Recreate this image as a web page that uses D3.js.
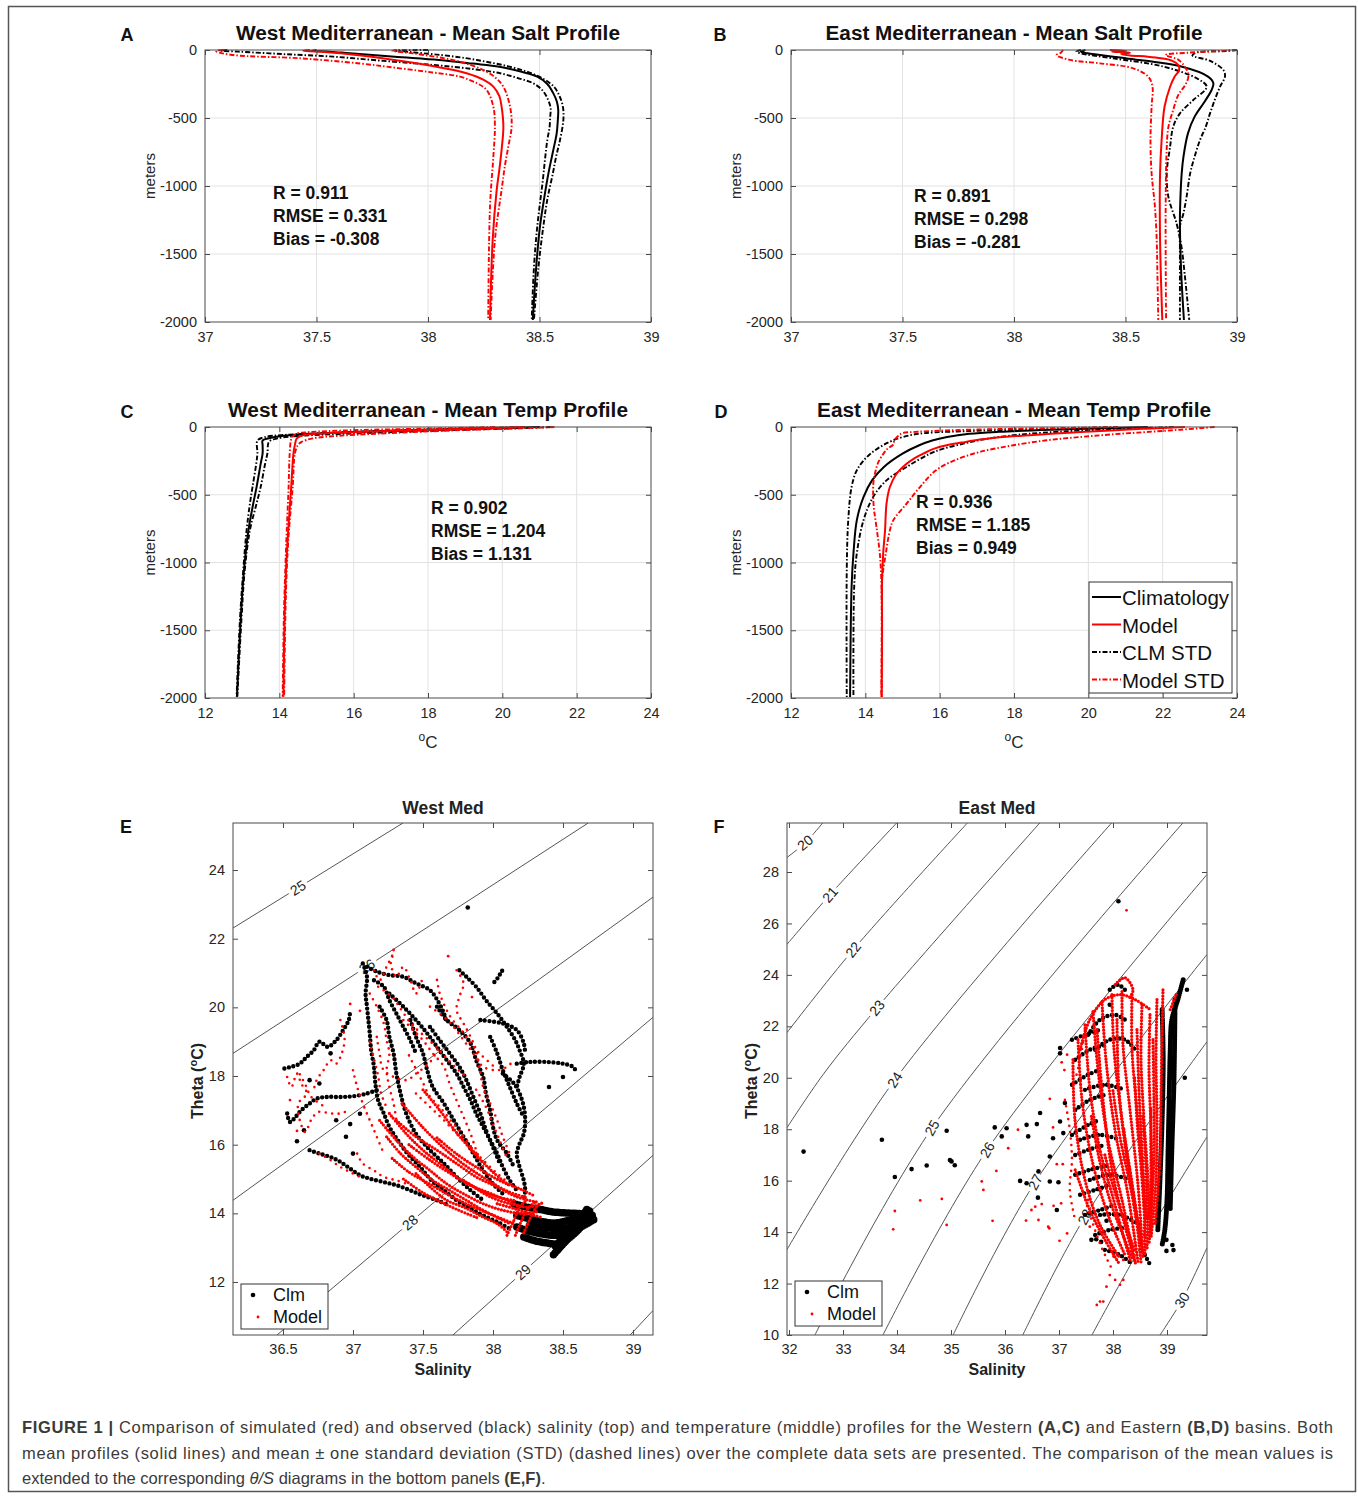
<!DOCTYPE html>
<html><head><meta charset="utf-8">
<script src="https://cdn.jsdelivr.net/npm/d3@7"></script>
<style>
body{margin:0;background:#fff;}
text{font-family:"Liberation Sans",Arial,Helvetica,sans-serif;}
</style></head><body>
<svg id="fig" width="1358" height="1498"></svg>
<script>
// ================= DATA =================
const depthTicks = [0, 500, 1000, 1500, 2000];
const saltTicks = [37, 37.5, 38, 38.5, 39];
const tempTicks = [12, 14, 16, 18, 20, 22, 24];

// Profiles: [depth (m), value]
const westSaltClm = [[0,37.50],[6,37.48],[12,37.56],[24,37.65],[50,37.85],[74,38.05],[100,38.2],[123,38.32],[160,38.42],[196,38.49],[250,38.535],[319,38.562],[380,38.578],[441,38.584],[520,38.582],[613,38.577],[750,38.56],[907,38.54],[1100,38.52],[1299,38.502],[1600,38.485],[1985,38.47]];
const westSaltClmLo = [[0,37.10],[5,37.07],[12,37.15],[30,37.35],[49,37.575],[80,37.8],[110,38.024],[140,38.2],[171,38.323],[210,38.41],[245,38.472],[300,38.515],[368,38.539],[430,38.55],[490,38.548],[570,38.545],[662,38.535],[800,38.525],[956,38.515],[1299,38.49],[1600,38.475],[1985,38.465]];
const westSaltClmHi = [[0,38.0],[4,37.85],[12,37.9],[20,37.95],[37,38.06],[60,38.17],[86,38.26],[120,38.36],[159,38.443],[210,38.515],[270,38.565],[340,38.59],[417,38.605],[515,38.607],[662,38.592],[780,38.575],[907,38.56],[1100,38.535],[1299,38.517],[1600,38.495],[1985,38.475]];
const westSaltMod = [[0,37.47],[6,37.44],[12,37.52],[40,37.7],[86,37.904],[130,38.06],[171,38.173],[220,38.25],[269,38.293],[340,38.32],[417,38.33],[564,38.338],[735,38.33],[880,38.32],[1029,38.308],[1397,38.29],[1985,38.278]];
const westSaltModLo = [[0,37.08],[6,37.05],[12,37.052],[37,37.126],[61,37.426],[100,37.7],[135,37.874],[165,38.02],[196,38.143],[245,38.22],[294,38.263],[417,38.293],[564,38.300],[785,38.293],[1152,38.278],[1985,38.27]];
const westSaltModHi = [[0,37.86],[6,37.84],[25,37.934],[74,38.113],[110,38.19],[147,38.248],[200,38.3],[270,38.338],[417,38.368],[564,38.375],[711,38.36],[850,38.345],[1029,38.330],[1397,38.30],[1985,38.281]];

const eastSaltClm = [[0,38.32],[12,38.30],[24,38.33],[61,38.5],[122,38.75],[196,38.87],[245,38.894],[294,38.886],[392,38.85],[490,38.81],[613,38.78],[784,38.76],[907,38.752],[1152,38.745],[1299,38.744],[1642,38.75],[1985,38.762]];
const eastSaltClmLo = [[0,38.30],[12,38.28],[24,38.296],[61,38.445],[122,38.67],[208,38.819],[270,38.864],[368,38.804],[466,38.744],[564,38.714],[711,38.70],[907,38.685],[1078,38.692],[1275,38.729],[1446,38.751],[1642,38.765],[1985,38.786]];
const eastSaltClmHi = [[0,39.0],[8,38.95],[18,38.82],[40,38.8],[80,38.88],[150,38.94],[196,38.946],[270,38.924],[368,38.90],[466,38.879],[564,38.86],[662,38.834],[784,38.81],[907,38.79],[1078,38.774],[1200,38.76],[1299,38.744],[1446,38.744],[1985,38.744]];
const eastSaltMod = [[0,38.43],[6,38.50],[12,38.44],[20,38.52],[30,38.48],[40,38.52],[49,38.6],[61,38.66],[80,38.71],[110,38.737],[150,38.74],[196,38.72],[270,38.70],[417,38.675],[662,38.662],[907,38.655],[1397,38.655],[1985,38.665]];
const eastSaltModLo = [[0,38.22],[20,38.21],[37,38.191],[73,38.251],[98,38.385],[135,38.535],[196,38.602],[270,38.621],[417,38.617],[662,38.612],[907,38.617],[1152,38.632],[1397,38.640],[1642,38.643],[1985,38.647]];
const eastSaltModHi = [[0,39.0],[10,38.9],[20,38.78],[37,38.68],[75,38.74],[147,38.775],[196,38.782],[260,38.767],[330,38.737],[440,38.714],[570,38.692],[760,38.684],[1200,38.68],[1985,38.682]];

const westTempClm = [[0,21.0],[10,19.8],[20,18.4],[30,17.0],[45,15.3],[60,14.3],[75,13.85],[100,13.55],[133,13.55],[194,13.55],[268,13.5],[440,13.39],[563,13.30],[760,13.17],[1055,13.05],[1424,12.96],[1990,12.86]];
const westTempClmLo = [[0,20.6],[10,19.2],[17,18.14],[30,16.6],[42,15.45],[59,14.11],[75,13.6],[100,13.41],[194,13.41],[268,13.38],[440,13.28],[563,13.21],[760,13.12],[1055,13.03],[1424,12.94],[1990,12.85]];
const westTempClmHi = [[0,21.3],[10,20.3],[20,19.0],[35,17.4],[50,15.8],[65,14.6],[84,13.95],[110,13.72],[194,13.68],[268,13.62],[440,13.50],[563,13.39],[760,13.21],[1055,13.07],[1424,12.98],[1990,12.87]];
const westTempMod = [[0,20.6],[10,19.5],[20,18.2],[30,16.9],[40,15.8],[50,15.0],[60,14.65],[84,14.47],[130,14.42],[194,14.38],[440,14.32],[760,14.24],[1055,14.18],[1424,14.14],[1990,14.11]];
const westTempModLo = [[0,19.8],[8,18.6],[15,17.4],[22,16.2],[30,15.3],[40,14.7],[50,14.45],[84,14.33],[194,14.28],[440,14.25],[760,14.2],[1055,14.16],[1424,14.12],[1990,14.09]];
const westTempModHi = [[0,21.4],[10,20.5],[20,19.2],[35,17.8],[50,16.6],[65,15.6],[84,14.9],[110,14.6],[133,14.5],[194,14.42],[440,14.36],[760,14.26],[1055,14.2],[1424,14.16],[1990,14.13]];

const eastTempClm = [[0,21.6],[10,20.4],[20,19.0],[35,17.6],[50,16.8],[74,16.2],[100,15.8],[135,15.45],[197,15.0],[295,14.5],[394,14.18],[517,13.95],[689,13.77],[935,13.68],[1181,13.63],[1993,13.59]];
const eastTempClmLo = [[0,20.8],[10,19.5],[20,18.0],[30,16.8],[45,15.6],[61,15.2],[98,14.75],[148,14.39],[222,14.04],[320,13.77],[443,13.63],[689,13.54],[1058,13.50],[1993,13.5]];
const eastTempClmHi = [[0,22.3],[10,21.3],[20,20.3],[35,19.2],[50,18.4],[61,17.98],[90,17.2],[123,16.64],[160,16.1],[197,15.74],[295,15.11],[394,14.57],[517,14.21],[689,13.95],[935,13.77],[1181,13.7],[1993,13.68]];
const eastTempMod = [[0,22.6],[12,21.57],[25,20.6],[37,19.77],[50,19.0],[61,18.43],[75,17.6],[93,17.08],[115,16.6],[135,16.19],[165,15.8],[197,15.56],[235,15.3],[271,15.11],[345,14.84],[443,14.66],[566,14.57],[763,14.53],[935,14.48],[1132,14.45],[1500,14.45],[1993,14.44]];
const eastTempModLo = [[0,20.8],[8,19.2],[15,17.6],[25,16.2],[35,15.4],[45,15.0],[55,14.93],[75,14.85],[100,14.78],[130,14.75],[160,14.6],[200,14.48],[260,14.35],[330,14.27],[400,14.22],[500,14.21],[600,14.23],[700,14.28],[800,14.33],[935,14.39],[1132,14.43],[1400,14.44],[1993,14.43]];
const eastTempModHi = [[0,23.4],[20,22.5],[37,21.57],[54,20.67],[74,19.77],[98,18.88],[135,17.98],[184,17.08],[246,16.4],[320,15.9],[443,15.47],[566,15.11],[689,14.75],[763,14.66],[935,14.55],[1132,14.45],[1400,14.45],[1993,14.44]];

const statsA = ["R = 0.911", "RMSE = 0.331", "Bias = -0.308"];
const statsB = ["R = 0.891", "RMSE = 0.298", "Bias = -0.281"];
const statsC = ["R = 0.902", "RMSE = 1.204", "Bias = 1.131"];
const statsD = ["R = 0.936", "RMSE = 1.185", "Bias = 0.949"];
const profileLegend = ["Climatology", "Model", "CLM STD", "Model STD"];

// T-S diagrams: [salinity, theta]
const westSalTicks = [36.5, 37, 37.5, 38, 38.5, 39];
const westThetaTicks = [12, 14, 16, 18, 20, 22, 24];
const eastSalTicks = [32, 33, 34, 35, 36, 37, 38, 39];
const eastThetaTicks = [10, 12, 14, 16, 18, 20, 22, 24, 26, 28];

const westSigma = [
  {v:"25", pts:[[36.143,22.31],[37.357,25.37]], lab:[36.607,23.48]},
  {v:"26", pts:[[36.143,18.66],[38.68,25.37]], lab:[37.1,21.19]},
  {v:"27", pts:[[36.143,14.38],[39.143,23.21]], lab:null},
  {v:"28", pts:[[36.457,10.456],[39.143,19.71]], lab:[37.407,13.73]},
  {v:"29", pts:[[37.714,10.456],[39.143,15.69]], lab:[38.214,12.29]},
  {v:"30", pts:[[38.98,10.456],[39.143,11.17]], lab:null}
];
const eastSigma = [
  {v:"20", pts:[[31.96,28.56],[32.30,29.14],[32.63,29.92]], lab:[32.30,29.14]},
  {v:"21", pts:[[31.96,25.18],[32.76,27.12],[34.0,29.92]], lab:[32.76,27.12]},
  {v:"22", pts:[[31.96,21.75],[33.19,24.98],[35.31,29.92]], lab:[33.19,24.98]},
  {v:"23", pts:[[31.96,18.05],[32.63,20.12],[33.63,22.72],[36.65,29.92]], lab:[33.63,22.72]},
  {v:"24", pts:[[31.96,13.31],[33.96,19.92],[37.98,29.92]], lab:[33.96,19.92]},
  {v:"25", pts:[[32.48,10.0],[34.65,18.05],[39.30,29.92]], lab:[34.65,18.05]},
  {v:"26", pts:[[33.74,10.0],[35.67,17.2],[39.74,27.9]], lab:[35.67,17.2]},
  {v:"27", pts:[[35.04,10.0],[36.56,15.95],[39.74,24.79]], lab:[36.56,15.95]},
  {v:"28", pts:[[36.33,10.0],[37.48,14.59],[39.74,21.4]], lab:[37.48,14.59]},
  {v:"29", pts:[[37.61,10.0],[38.69,14.09],[39.74,17.7]], lab:null},
  {v:"30", pts:[[38.87,10.0],[39.28,11.36],[39.74,13.39]], lab:[39.28,11.36]}
];

// West Med climatology casts
const westClmCasts = [
 [[37.07,21.28],[37.10,20.89],[37.09,20.40],[37.10,20.02],[37.11,19.63],[37.12,19.24],[37.13,18.75],[37.15,18.27],[37.16,17.78],[37.18,17.29],[37.22,16.91],[37.26,16.52],[37.32,16.13],[37.39,15.74],[37.48,15.35],[37.56,14.96],[37.65,14.67],[37.74,14.38],[37.84,14.14],[37.93,13.94],[38.03,13.75],[38.12,13.55]],
 [[37.10,21.18],[37.17,21.04],[37.26,20.94],[37.36,20.89],[37.45,20.70],[37.55,20.50],[37.61,20.16],[37.65,19.82],[37.67,19.53]],
 [[37.76,21.08],[37.81,20.89],[37.88,20.60],[37.95,20.21],[38.03,19.82],[38.10,19.43],[38.16,19.04],[38.19,18.75],[38.22,18.36],[38.19,17.97],[38.17,17.68]],
 [[38.01,20.74],[38.04,20.89],[38.06,21.04],[38.08,21.13]],
 [[38.17,18.36],[38.26,18.41],[38.38,18.41],[38.50,18.36],[38.57,18.27],[38.59,18.17]],
 [[37.91,19.63],[38.07,19.53],[38.17,19.34],[38.22,18.95],[38.23,18.66]],
 [[37.98,19.14],[38.03,18.66],[38.07,18.17],[38.12,17.68],[38.17,17.20],[38.22,16.81]],
 [[38.07,18.07],[38.15,17.78],[38.19,17.49],[38.22,17.10],[38.23,16.71],[38.22,16.32],[38.19,16.03],[38.17,15.74],[38.19,15.35],[38.22,14.96],[38.23,14.67],[38.22,14.38]],
 [[37.26,20.40],[37.36,20.02],[37.45,19.63],[37.53,19.24],[37.60,18.85],[37.67,18.46],[37.74,18.07],[37.79,17.68],[37.84,17.29],[37.88,16.91],[37.93,16.52],[37.98,16.13],[38.03,15.74],[38.07,15.35],[38.12,14.96],[38.17,14.67]],
 [[37.41,19.63],[37.45,19.14],[37.50,18.66],[37.53,18.17],[37.57,17.68],[37.65,17.20],[37.72,16.71],[37.79,16.23],[37.86,15.74],[37.93,15.25],[38.00,14.86],[38.07,14.57]],
 [[37.60,20.02],[37.67,19.63],[37.76,19.34],[37.84,18.95],[37.88,18.46],[37.93,17.97],[37.95,17.49],[37.98,17.00],[38.00,16.52],[38.03,16.13],[38.10,15.74],[38.15,15.35]],
 [[37.19,20.02],[37.24,19.63],[37.26,19.14],[37.29,18.66],[37.31,18.07],[37.34,17.49],[37.38,16.91],[37.45,16.32],[37.55,15.84],[37.65,15.45],[37.74,15.06],[37.84,14.67],[37.93,14.38]],
 [[36.51,18.22],[36.56,18.27],[36.62,18.36],[36.67,18.56],[36.72,18.75],[36.76,19.0],[36.82,18.85],[36.88,19.04],[36.93,19.34],[36.97,19.63],[36.98,19.92]],
 [[36.53,16.91],[36.55,16.66],[36.59,16.81],[36.63,17.0],[36.69,17.20],[36.74,17.34],[36.81,17.39],[36.91,17.39],[37.0,17.41],[37.10,17.49],[37.17,17.59]],
 [[36.69,15.84],[36.76,15.74],[36.84,15.64],[36.91,15.50],[36.98,15.30],[37.05,15.11],[37.12,15.01],[37.22,14.91],[37.31,14.82],[37.41,14.67],[37.50,14.52],[37.60,14.38],[37.69,14.23]],
 [[37.15,20.79],[37.22,20.60],[37.26,20.21],[37.31,19.82],[37.36,19.43],[37.41,19.04],[37.45,18.66]],
 [[37.55,19.43],[37.62,19.04],[37.69,18.66],[37.76,18.27],[37.81,17.88],[37.86,17.39],[37.91,16.91],[37.95,16.42],[38.0,15.93],[38.05,15.45]]
];
const westClmDeep = [
 [[38.15,14.28],[38.24,14.18],[38.34,14.11],[38.43,14.04],[38.53,14.01],[38.62,13.99],[38.72,13.94]],
 [[38.17,13.94],[38.26,13.84],[38.36,13.75],[38.45,13.72],[38.55,13.80],[38.65,13.84],[38.72,13.89]],
 [[38.17,13.60],[38.26,13.48],[38.36,13.39],[38.45,13.36],[38.55,13.45],[38.65,13.65],[38.73,13.84]],
 [[38.22,13.31],[38.31,13.19],[38.41,13.12],[38.48,13.07]],
 [[38.69,14.07],[38.65,13.75],[38.60,13.48],[38.53,13.23],[38.47,12.97],[38.43,12.78]],
 [[38.67,14.11],[38.62,13.80],[38.56,13.52],[38.50,13.29],[38.44,13.0]],
 [[38.26,13.65],[38.38,13.58],[38.50,13.55],[38.62,13.70]]
];
const westClmPoints = [[37.82,22.91],[38.40,17.68],[38.50,17.97],[36.88,16.71],[36.95,16.23],[36.76,17.78],[36.69,17.88],[36.84,18.66],[36.65,16.42],[37.0,15.74],[36.60,16.10],[36.98,16.60],[37.05,16.9]];
const westModCore = [
 [[37.19,16.71],[37.31,16.13],[37.43,15.64],[37.55,15.25],[37.67,14.86],[37.79,14.57],[37.93,14.28],[38.07,14.09],[38.22,13.99],[38.31,14.04]],
 [[37.26,16.91],[37.38,16.32],[37.50,15.84],[37.62,15.45],[37.74,15.06],[37.86,14.77],[37.98,14.48],[38.12,14.28],[38.26,14.18],[38.34,14.28]],
 [[37.24,16.23],[37.34,15.74],[37.45,15.35],[37.57,14.96],[37.69,14.67],[37.81,14.38],[37.93,14.09],[38.05,13.84],[38.12,13.70]],
 [[37.31,16.71],[37.45,16.23],[37.60,15.84],[37.74,15.45],[37.88,15.06],[38.03,14.77],[38.17,14.48],[38.31,14.33]],
 [[37.45,15.16],[37.55,14.77],[37.67,14.38],[37.79,14.18],[37.93,13.89],[38.03,13.70],[38.10,13.46]],
 [[38.10,13.36],[38.15,13.80],[38.19,14.18],[38.24,14.38]],
 [[38.16,13.36],[38.20,13.75],[38.25,14.14],[38.30,14.33]],
 [[38.22,13.43],[38.26,13.80],[38.31,14.18],[38.35,14.30]],
 [[38.03,14.28],[38.15,14.14],[38.26,13.99],[38.34,13.89]],
 [[37.79,14.96],[37.91,14.67],[38.03,14.48],[38.15,14.38]],
 [[37.35,17.2],[37.5,16.5],[37.65,15.9],[37.8,15.4],[37.95,15.0],[38.1,14.65],[38.25,14.45]],
 [[37.28,15.6],[37.4,15.2],[37.55,14.85],[37.7,14.5],[37.85,14.2],[38.0,13.95],[38.15,13.7]],
 [[37.5,17.6],[37.62,17.0],[37.75,16.3],[37.88,15.7],[38.0,15.2],[38.12,14.8]],
 [[37.36,15.0],[37.5,14.6],[37.62,14.35],[37.75,14.1],[37.9,13.85]],
 [[37.4,16.0],[37.55,15.55],[37.7,15.15],[37.85,14.8],[38.0,14.55],[38.2,14.2]],
 [[37.6,16.2],[37.75,15.7],[37.9,15.3],[38.05,14.95],[38.2,14.7],[38.3,14.5]]
];
const westModScatter = [
 [[37.15,21.08],[37.19,20.79],[37.24,21.18],[37.29,21.57],[37.27,21.28],[37.31,20.89],[37.36,21.18],[37.41,20.79],[37.45,20.40],[37.50,20.89]],
 [[37.12,20.40],[37.17,20.02],[37.22,19.53],[37.24,19.04],[37.26,18.66],[37.24,18.17],[37.26,17.68],[37.29,17.20],[37.31,16.71]],
 [[37.36,19.63],[37.43,19.34],[37.50,19.04],[37.57,18.66],[37.65,18.27],[37.69,17.78],[37.74,17.29],[37.79,16.81],[37.84,16.32],[37.88,15.84],[37.93,15.35]],
 [[37.55,20.02],[37.65,19.72],[37.72,19.43],[37.79,19.04],[37.86,18.66],[37.93,18.27],[38.03,18.17],[38.10,18.27],[38.15,18.46]],
 [[37.74,21.08],[37.79,20.70],[37.76,20.31],[37.74,19.92],[37.79,19.53],[37.84,19.14],[37.88,18.75],[37.93,17.68],[37.98,17.20],[38.03,16.71],[38.07,16.23],[38.12,15.74]],
 [[36.53,17.97],[36.56,17.68],[36.60,18.07],[36.63,17.78],[36.67,17.49],[36.61,17.20],[36.62,16.71],[36.66,16.37],[36.70,16.71],[36.75,16.95],[36.84,16.91],[36.91,16.91],[36.97,17.0]],
 [[36.91,19.63],[36.93,19.34],[36.94,19.04],[36.92,18.66],[36.88,18.36],[36.84,18.46],[36.79,18.17],[36.74,17.88],[36.72,17.59]],
 [[37.0,18.17],[37.03,17.68],[37.07,17.20],[37.12,16.71],[37.17,16.23],[37.22,15.74]],
 [[37.03,15.74],[37.07,15.45],[37.15,15.25],[37.22,15.06],[37.31,14.96],[37.41,14.82]],
 [[36.76,15.74],[36.84,15.55],[36.91,15.35],[36.98,15.20],[37.05,15.06]],
 [[37.45,17.49],[37.55,17.10],[37.65,16.71],[37.74,16.32],[37.84,15.93],[37.93,15.55],[38.03,15.16],[38.12,14.86]],
 [[37.17,19.14],[37.19,18.66],[37.22,18.17],[37.38,17.88],[37.45,18.07],[37.55,18.4],[37.62,18.9]],
 [[37.18,20.6],[37.28,20.3],[37.35,19.9],[37.42,19.5],[37.5,19.2],[37.58,18.9],[37.65,18.6],[37.72,18.3],[37.8,18.0]],
 [[37.12,19.0],[37.15,18.5],[37.18,18.0],[37.2,17.5],[37.25,17.0]],
 [[37.6,20.8],[37.62,20.4],[37.66,20.0],[37.7,19.7],[37.78,19.3],[37.85,18.9],[37.92,18.6],[38.0,18.3]],
 [[37.4,18.6],[37.45,18.2],[37.5,17.8],[37.55,17.4],[37.62,17.1],[37.7,16.7],[37.78,16.3],[37.85,15.9],[37.9,15.5]],
 [[36.62,18.05],[36.66,17.75],[36.7,17.4],[36.78,17.15]],
 [[37.88,17.6],[37.95,17.1],[38.0,16.6],[38.05,16.1],[38.1,15.6]]
];
const westModPoints = [[37.68,21.49],[37.29,21.67],[37.05,19.9],[36.98,20.1],[37.85,20.3],[36.55,17.3],[36.6,16.4]];

// East Med
const eastClmSpine = [
 [[39.30,23.81],[39.20,23.04],[39.09,22.26],[39.06,21.09],[39.04,19.14],[39.02,17.20],[39.0,15.25],[38.96,14.09],[38.91,13.50]],
 [[38.91,22.65],[38.93,20.70],[38.91,18.37],[38.87,16.03],[38.83,14.09]],
 [[39.15,23.04],[39.13,19.92],[39.09,17.20],[39.06,14.86]]
];
const eastClmCasts = [
 [[37.24,21.48],[37.48,21.67],[37.76,21.87]],
 [[37.30,20.70],[37.57,21.09],[37.85,21.28]],
 [[37.24,19.73],[37.54,20.12],[37.76,20.31]],
 [[37.30,18.75],[37.57,19.14],[37.85,19.34]],
 [[37.24,17.78],[37.54,18.17],[37.76,18.37]],
 [[37.30,17.0],[37.54,17.20],[37.85,17.39]],
 [[37.30,16.23],[37.57,16.42],[37.94,16.61]],
 [[37.39,15.45],[37.67,15.64],[37.94,15.84]],
 [[37.48,14.67],[37.76,14.86],[38.04,15.06]],
 [[37.67,13.89],[37.94,14.09],[38.22,14.16]],
 [[37.85,13.31],[38.13,13.11],[38.31,12.84]],
 [[37.54,21.67],[37.76,22.26],[38.04,22.45],[38.22,22.26]],
 [[37.67,21.09],[37.94,21.48],[38.22,21.48],[38.41,21.09]],
 [[37.94,23.42],[38.09,23.62],[38.22,23.42]],
 [[37.48,19.53],[37.85,19.73],[38.22,19.53]],
 [[37.39,17.59],[37.76,17.78],[38.13,17.59]],
 [[37.57,16.03],[37.94,16.23],[38.31,16.03]],
 [[37.76,14.67],[38.13,14.67],[38.50,14.28]],
 [[38.59,13.11],[38.69,12.72]]
];
const eastClmPoints = [[32.27,17.13],[33.72,17.59],[33.96,16.14],[34.27,16.45],[34.55,16.59],[34.92,17.94],[34.98,16.80],[35.01,16.75],[35.07,16.60],[35.81,18.07],[36.03,18.04],[35.94,17.72],[36.40,18.17],[36.59,18.20],[36.65,18.63],[36.43,17.72],[36.28,15.99],[36.40,15.90],[36.62,16.36],[36.61,15.34],[36.83,15.97],[36.99,15.94],[36.96,14.86],[36.89,17.65],[37.02,18.30],[37.08,17.85],[37.11,19.02],[36.83,16.94],[37.6,13.70],[37.69,13.72],[37.78,13.62],[37.88,14.44],[38.99,13.70],[38.99,13.27],[38.10,26.86],[37.02,21.16],[37.02,20.95],[37.94,22.84],[39.37,23.42],[39.33,20.0],[39.1,13.5],[39.12,13.3]];
const eastModCore = [
 [[37.259,20.70],[37.296,18.37],[37.481,16.03],[37.759,14.28],[38.130,12.99]],
 [[37.352,21.48],[37.426,19.14],[37.611,16.81],[37.907,14.67],[38.222,13.11]],
 [[37.481,22.06],[37.574,19.53],[37.759,17.20],[38.037,15.06],[38.315,12.92]],
 [[37.630,22.57],[37.722,20.31],[37.907,17.59],[38.167,15.25],[38.407,12.84]],
 [[37.796,22.96],[37.870,20.70],[38.037,17.98],[38.278,15.45],[38.463,12.84]],
 [[37.981,23.23],[38.019,21.09],[38.167,18.37],[38.370,15.64],[38.519,12.84]],
 [[38.167,23.35],[38.185,21.28],[38.315,18.75],[38.463,15.84],[38.556,12.99]],
 [[38.352,23.23],[38.352,21.09],[38.444,18.75],[38.556,16.03],[38.593,13.11]],
 [[38.537,22.84],[38.519,20.70],[38.574,18.37],[38.648,15.84],[38.630,13.31]],
 [[38.685,22.45],[38.667,20.31],[38.704,17.98],[38.722,15.64],[38.667,13.50]],
 [[38.815,23.04],[38.796,20.70],[38.815,18.37],[38.796,16.03],[38.704,13.77]],
 [[38.926,23.42],[38.907,21.48],[38.889,19.14],[38.870,16.81],[38.778,14.28]],
 [[37.704,21.87],[37.815,19.14],[37.981,16.42],[38.241,14.09],[38.426,12.72]],
 [[38.074,22.26],[38.111,19.53],[38.259,16.81],[38.444,14.28]],
 [[38.444,21.87],[38.481,19.53],[38.537,17.20],[38.611,14.47]],
 [[38.741,21.48],[38.759,19.14],[38.759,16.81],[38.685,14.09]],
 [[37.85,17.0],[38.0,15.8],[38.2,14.5],[38.4,13.3]],
 [[38.2,18.0],[38.3,16.5],[38.42,15.0],[38.52,13.5]],
 [[38.55,18.5],[38.6,17.0],[38.62,15.3],[38.58,13.8]],
 [[38.7,18.8],[38.7,17.5],[38.7,16.0],[38.66,14.5]],
 [[37.6,18.5],[37.75,16.8],[37.95,15.2],[38.2,13.8],[38.35,13.0]],
 [[38.0,19.5],[38.12,17.8],[38.3,16.0],[38.47,14.3],[38.55,13.2]],
 [[38.4,20.0],[38.45,18.2],[38.52,16.5],[38.58,14.8]],
 [[37.30,16.42],[37.57,14.86],[37.85,13.70],[38.13,12.72]],
 [[37.39,21.09],[37.57,22.26],[37.85,23.04],[38.13,23.23],[38.41,23.04],[38.69,22.65]],
 [[39.06,22.65],[39.17,23.23]],
 [[38.04,23.62],[38.22,23.89],[38.37,23.42],[38.31,23.11]]
];
const eastModScatter = [
 [[37.11,19.14],[37.20,17.98],[37.24,16.81],[37.20,15.64],[37.30,14.47]],
 [[37.48,21.87],[37.39,20.70],[37.30,19.92]],
 [[37.45,15.5],[37.6,14.5],[37.75,13.6],[37.9,12.9],[38.0,12.5]]
];
const eastModPoints = [[33.96,14.82],[33.93,14.11],[34.43,15.23],[34.83,15.29],[34.92,14.28],[35.57,15.97],[35.60,15.64],[35.84,16.38],[35.77,14.44],[36.06,17.26],[36.24,17.98],[36.39,14.45],[36.49,14.86],[36.56,14.99],[36.68,15.09],[36.62,14.47],[36.80,14.21],[36.82,14.15],[36.89,18.07],[36.90,15.02],[36.96,16.64],[37.07,16.64],[37.01,13.66],[37.04,15.12],[37.15,13.95],[36.83,19.18],[37.94,12.33],[37.88,11.88],[38.04,12.14],[38.13,11.95],[38.19,12.14],[37.70,11.17],[37.76,11.30],[37.82,11.30],[38.01,13.05],[38.19,12.92],[37.57,14.21],[37.54,15.25],[38.25,26.51],[37.05,20.6],[37.1,20.3],[37.15,20.9]];
const tsLegend = ["Clm", "Model"];

// ================= DRAWING =================
const svg = d3.select('#fig');
const INK = '#262626', AX = '#4a4a4a';
let clipN = 0;
function clip(x, y, w, h){
  const id = 'c' + (clipN++);
  svg.append('clipPath').attr('id', id).append('rect').attr('x', x).attr('y', y).attr('width', w).attr('height', h);
  return `url(#${id})`;
}
function txt(g, x, y, s, o = {}){
  return g.append('text').attr('x', x).attr('y', y).text(s)
    .attr('font-size', o.size || 14).attr('font-weight', o.bold ? 'bold' : null)
    .attr('text-anchor', o.anchor || 'start').attr('fill', o.fill || INK);
}

svg.append('rect').attr('x', 8.5).attr('y', 6.5).attr('width', 1347).attr('height', 1485)
  .attr('fill', 'none').attr('stroke', '#555').attr('stroke-width', 1.5);

function profilePanel(c){
  const x = d3.scaleLinear().domain(c.xDomain).range([c.left, c.right]);
  const y = d3.scaleLinear().domain([0, 2000]).range([c.top, c.bottom]);
  const g = svg.append('g');
  const W = c.right - c.left, H = c.bottom - c.top;
  g.selectAll(null).data(c.xTicks.slice(1, -1)).join('line')
    .attr('x1', d => x(d)).attr('x2', d => x(d)).attr('y1', c.top).attr('y2', c.bottom).attr('stroke', '#e2e2e2');
  g.selectAll(null).data(depthTicks.slice(1, -1)).join('line')
    .attr('y1', d => y(d)).attr('y2', d => y(d)).attr('x1', c.left).attr('x2', c.right).attr('stroke', '#e2e2e2');
  const lg = g.append('g').attr('clip-path', clip(c.left, c.top - 4, W, H + 4));
  const line = d3.line().x(d => x(d[1])).y(d => y(d[0])).curve(d3.curveCatmullRom);
  c.series.forEach(s => {
    lg.append('path').attr('d', line(s.data)).attr('fill', 'none').attr('stroke', s.color)
      .attr('stroke-width', s.dash ? 1.9 : 2).attr('stroke-dasharray', s.dash ? '5 2 1.5 2' : null);
  });
  g.append('rect').attr('x', c.left).attr('y', c.top).attr('width', W).attr('height', H)
    .attr('fill', 'none').attr('stroke', AX).attr('stroke-width', 1);
  const axB = g.append('g').attr('transform', `translate(0,${c.bottom})`)
    .call(d3.axisBottom(x).tickValues(c.xTicks).tickSizeInner(-5).tickSizeOuter(0).tickPadding(10).tickFormat(d => String(d)));
  const axT = g.append('g').attr('transform', `translate(0,${c.top})`)
    .call(d3.axisTop(x).tickValues(c.xTicks).tickSizeInner(-5).tickSizeOuter(0).tickFormat(''));
  const axL = g.append('g').attr('transform', `translate(${c.left},0)`)
    .call(d3.axisLeft(y).tickValues(depthTicks).tickSizeInner(-5).tickSizeOuter(0).tickPadding(8).tickFormat(d => d === 0 ? '0' : '-' + d));
  const axR = g.append('g').attr('transform', `translate(${c.right},0)`)
    .call(d3.axisRight(y).tickValues(depthTicks).tickSizeInner(-5).tickSizeOuter(0).tickFormat(''));
  [axB, axT, axL, axR].forEach(a => {
    a.select('.domain').remove();
    a.selectAll('line').attr('stroke', AX);
    a.selectAll('text').attr('font-size', 14.5).attr('fill', INK).attr('font-family', '"Liberation Sans",Arial,sans-serif');
  });
  txt(g, 0, 0, 'meters', {size: 15, anchor: 'middle'}).attr('transform', `translate(${c.left - 50},${(c.top + c.bottom) / 2 - 10}) rotate(-90)`);
  txt(g, (c.left + c.right) / 2, c.top - 10, c.title, {size: 20, bold: true, anchor: 'middle', fill: '#111'})
    .attr('textLength', c.titleW).attr('lengthAdjust', 'spacingAndGlyphs');
  txt(g, c.letterX, c.top - 9, c.letter, {size: 18, bold: true, anchor: 'middle', fill: '#111'});
  c.stats.forEach((s, i) => txt(g, c.statX, c.statY + i * 23, s, {size: 17.5, bold: true, fill: '#111'}));
  if (c.xlabel){
    const t = g.append('text').attr('x', (c.left + c.right) / 2).attr('y', c.bottom + 50).attr('text-anchor', 'middle').attr('fill', INK).attr('font-size', 17);
    t.append('tspan').text('o').attr('font-size', 12).attr('dy', -7);
    t.append('tspan').text('C').attr('dy', 7);
  }
  if (c.legend){
    const L = c.legend;
    const lgd = g.append('g');
    lgd.append('rect').attr('x', L.x).attr('y', L.y).attr('width', L.w).attr('height', L.h).attr('fill', '#fff').attr('stroke', '#333').attr('stroke-width', 1);
    const styles = [{color:'#000', dash:false}, {color:'#ff0000', dash:false}, {color:'#000', dash:true}, {color:'#ff0000', dash:true}];
    profileLegend.forEach((s, i) => {
      const yy = L.y + 15 + i * 27.5;
      lgd.append('line').attr('x1', L.x + 3).attr('x2', L.x + 32).attr('y1', yy).attr('y2', yy)
        .attr('stroke', styles[i].color).attr('stroke-width', 2).attr('stroke-dasharray', styles[i].dash ? '5 2 1.5 2' : null);
      txt(lgd, L.x + 33, yy + 8, s, {size: 20.5, fill: '#111'});
    });
  }
}

function six(clm, clmLo, clmHi, mod, modLo, modHi){
  return [
    {data: clmLo, color: '#000', dash: true}, {data: clmHi, color: '#000', dash: true}, {data: clm, color: '#000', dash: false},
    {data: modLo, color: '#ff0000', dash: true}, {data: modHi, color: '#ff0000', dash: true}, {data: mod, color: '#ff0000', dash: false}
  ];
}

profilePanel({left: 205, right: 651, top: 50, bottom: 322, xDomain: [37, 39], xTicks: saltTicks,
  title: 'West Mediterranean - Mean Salt Profile', titleW: 384, letter: 'A', letterX: 127,
  stats: statsA, statX: 273, statY: 199, series: six(westSaltClm, westSaltClmLo, westSaltClmHi, westSaltMod, westSaltModLo, westSaltModHi)});
profilePanel({left: 791, right: 1237, top: 50, bottom: 322, xDomain: [37, 39], xTicks: saltTicks,
  title: 'East Mediterranean - Mean Salt Profile', titleW: 377, letter: 'B', letterX: 720,
  stats: statsB, statX: 914, statY: 202, series: six(eastSaltClm, eastSaltClmLo, eastSaltClmHi, eastSaltMod, eastSaltModLo, eastSaltModHi)});
profilePanel({left: 205, right: 651, top: 427, bottom: 698, xDomain: [12, 24], xTicks: tempTicks,
  title: 'West Mediterranean - Mean Temp Profile', titleW: 400, letter: 'C', letterX: 127, xlabel: true,
  stats: statsC, statX: 431, statY: 514, series: six(westTempClm, westTempClmLo, westTempClmHi, westTempMod, westTempModLo, westTempModHi)});
profilePanel({left: 791, right: 1237, top: 427, bottom: 698, xDomain: [12, 24], xTicks: tempTicks,
  title: 'East Mediterranean - Mean Temp Profile', titleW: 394, letter: 'D', letterX: 721, xlabel: true,
  stats: statsD, statX: 916, statY: 508, series: six(eastTempClm, eastTempClmLo, eastTempClmHi, eastTempMod, eastTempModLo, eastTempModHi),
  legend: {x: 1089, y: 582, w: 143, h: 111}});

function tsPanel(c){
  const x = d3.scaleLinear().domain(c.xDomain).range([c.left, c.right]);
  const y = d3.scaleLinear().domain(c.yDomain).range([c.bottom, c.top]);
  const g = svg.append('g');
  const W = c.right - c.left, H = c.bottom - c.top;
  const cp = clip(c.left, c.top, W, H);
  const cg = g.append('g').attr('clip-path', cp);
  const cline = d3.line().x(d => x(d[0])).y(d => y(d[1])).curve(d3.curveCatmullRom);
  c.sigma.forEach(s => cg.append('path').attr('d', cline(s.pts)).attr('fill', 'none').attr('stroke', '#555').attr('stroke-width', 1));
  c.sigma.filter(s => s.lab).forEach(s => {
    let i = 0;
    while (i < s.pts.length - 2 && s.pts[i + 1][0] < s.lab[0]) i++;
    const a = s.pts[i], b = s.pts[i + 1];
    const ang = Math.atan2(y(b[1]) - y(a[1]), x(b[0]) - x(a[0])) * 180 / Math.PI;
    cg.append('text').attr('transform', `translate(${x(s.lab[0])},${y(s.lab[1])}) rotate(${ang})`)
      .attr('text-anchor', 'middle').attr('dy', '0.35em').attr('font-size', 14).attr('fill', '#222')
      .attr('stroke', '#fff').attr('stroke-width', 7).attr('paint-order', 'stroke').text(s.v);
  });
  const dg = g.append('g').attr('clip-path', cp);
  const tl = d3.line().x(d => x(d[0])).y(d => y(d[1])).curve(d3.curveCatmullRom);
  function casts(list, color, w, gap){
    list.forEach(t => dg.append('path').attr('d', tl(t)).attr('fill', 'none').attr('stroke', color)
      .attr('stroke-width', w).attr('stroke-linecap', 'round').attr('stroke-dasharray', `0 ${gap}`));
  }
  casts(c.clmCasts, '#000', 4.4, 4.6);
  casts(c.clmDense, '#000', c.denseW || 7, 2.2);
  dg.selectAll(null).data(c.clmPts).join('circle').attr('cx', d => x(d[0])).attr('cy', d => y(d[1])).attr('r', 2.3).attr('fill', '#000');
  casts(c.modScatter, '#ff0000', 2.6, 6.5);
  casts(c.modCore, '#ff0000', c.coreW || 2.8, c.coreGap || 3.4);
  dg.selectAll(null).data(c.modPts).join('circle').attr('cx', d => x(d[0])).attr('cy', d => y(d[1])).attr('r', 1.4).attr('fill', '#ff0000');

  g.append('rect').attr('x', c.left).attr('y', c.top).attr('width', W).attr('height', H)
    .attr('fill', 'none').attr('stroke', AX).attr('stroke-width', 1);
  const axB = g.append('g').attr('transform', `translate(0,${c.bottom})`)
    .call(d3.axisBottom(x).tickValues(c.xTicks).tickSizeInner(-5).tickSizeOuter(0).tickPadding(9).tickFormat(d => String(d)));
  const axT = g.append('g').attr('transform', `translate(0,${c.top})`)
    .call(d3.axisTop(x).tickValues(c.xTicks).tickSizeInner(-5).tickSizeOuter(0).tickFormat(''));
  const axL = g.append('g').attr('transform', `translate(${c.left},0)`)
    .call(d3.axisLeft(y).tickValues(c.yTicks).tickSizeInner(-5).tickSizeOuter(0).tickPadding(8).tickFormat(d => String(d)));
  const axR = g.append('g').attr('transform', `translate(${c.right},0)`)
    .call(d3.axisRight(y).tickValues(c.yTicks).tickSizeInner(-5).tickSizeOuter(0).tickFormat(''));
  [axB, axT, axL, axR].forEach(a => {
    a.select('.domain').remove();
    a.selectAll('line').attr('stroke', AX);
    a.selectAll('text').attr('font-size', 14.5).attr('fill', INK).attr('font-family', '"Liberation Sans",Arial,sans-serif');
  });
  const cx = (c.left + c.right) / 2;
  txt(g, cx, c.top - 9, c.title, {size: 17.5, bold: true, anchor: 'middle', fill: '#222'});
  txt(g, cx, c.bottom + 40, 'Salinity', {size: 16, bold: true, anchor: 'middle', fill: '#222'});
  const th = g.append('text').attr('transform', `translate(${c.left - 30},${(c.top + c.bottom) / 2 + 2}) rotate(-90)`)
    .attr('text-anchor', 'middle').attr('font-size', 16).attr('font-weight', 'bold').attr('fill', '#222');
  th.append('tspan').text('Theta (');
  th.append('tspan').text('o').attr('font-size', 11).attr('dy', -6);
  th.append('tspan').text('C)').attr('dy', 6);
  txt(g, c.letterX, c.top + 10, c.letter, {size: 18, bold: true, anchor: 'middle', fill: '#111'});
  const L = c.legend;
  g.append('rect').attr('x', L.x).attr('y', L.y).attr('width', 87).attr('height', 45).attr('fill', '#fff').attr('stroke', '#333');
  g.append('circle').attr('cx', L.x + 12).attr('cy', L.y + 11).attr('r', 2.3).attr('fill', '#000');
  g.append('circle').attr('cx', L.x + 17).attr('cy', L.y + 33).attr('r', 1.4).attr('fill', '#ff0000');
  tsLegend.forEach((s, i) => txt(g, L.x + 32, L.y + 17 + i * 22, s, {size: 18, fill: '#111'}));
}

tsPanel({left: 233, right: 653, top: 823, bottom: 1335, xDomain: [36.143, 39.143], yDomain: [10.456, 25.37],
  xTicks: westSalTicks, yTicks: westThetaTicks, sigma: westSigma, title: 'West Med', letter: 'E', letterX: 126,
  clmCasts: westClmCasts, clmDense: westClmDeep, clmPts: westClmPoints, denseW: 7.5,
  modScatter: westModScatter, modCore: westModCore, modPts: westModPoints, coreW: 3.2, coreGap: 3.2, legend: {x: 241, y: 1284}});
tsPanel({left: 787, right: 1207, top: 823, bottom: 1335, xDomain: [31.963, 39.741], yDomain: [10, 29.905],
  xTicks: eastSalTicks, yTicks: eastThetaTicks, sigma: eastSigma, title: 'East Med', letter: 'F', letterX: 719,
  clmCasts: eastClmCasts, clmDense: eastClmSpine, clmPts: eastClmPoints, denseW: 5,
  modScatter: eastModScatter, modCore: eastModCore, modPts: eastModPoints, coreW: 3.3, coreGap: 3.2, legend: {x: 795, y: 1281}});

// caption
const cap = svg.append('g').attr('fill', '#3a3a3a').attr('font-size', 16.5);
function capLine(y, parts, w){
  const t = cap.append('text').attr('x', 22).attr('y', y);
  parts.forEach(p => t.append('tspan').text(p[0]).attr('font-weight', p[1] === 'b' ? 'bold' : null).attr('font-style', p[1] === 'i' ? 'italic' : null));
  if (w) t.attr('textLength', w).attr('lengthAdjust', 'spacing');
}
capLine(1433, [['FIGURE 1 |', 'b'], [' Comparison of simulated (red) and observed (black) salinity (top) and temperature (middle) profiles for the Western '], ['(A,C)', 'b'], [' and Eastern '], ['(B,D)', 'b'], [' basins. Both']], 1311);
capLine(1459, [['mean profiles (solid lines) and mean \u00b1 one standard deviation (STD) (dashed lines) over the complete data sets are presented. The comparison of the mean values is']], 1311);
capLine(1484, [['extended to the corresponding '], ['\u03b8/S', 'i'], [' diagrams in the bottom panels '], ['(E,F)', 'b'], ['.']]);
</script>
</body></html>
